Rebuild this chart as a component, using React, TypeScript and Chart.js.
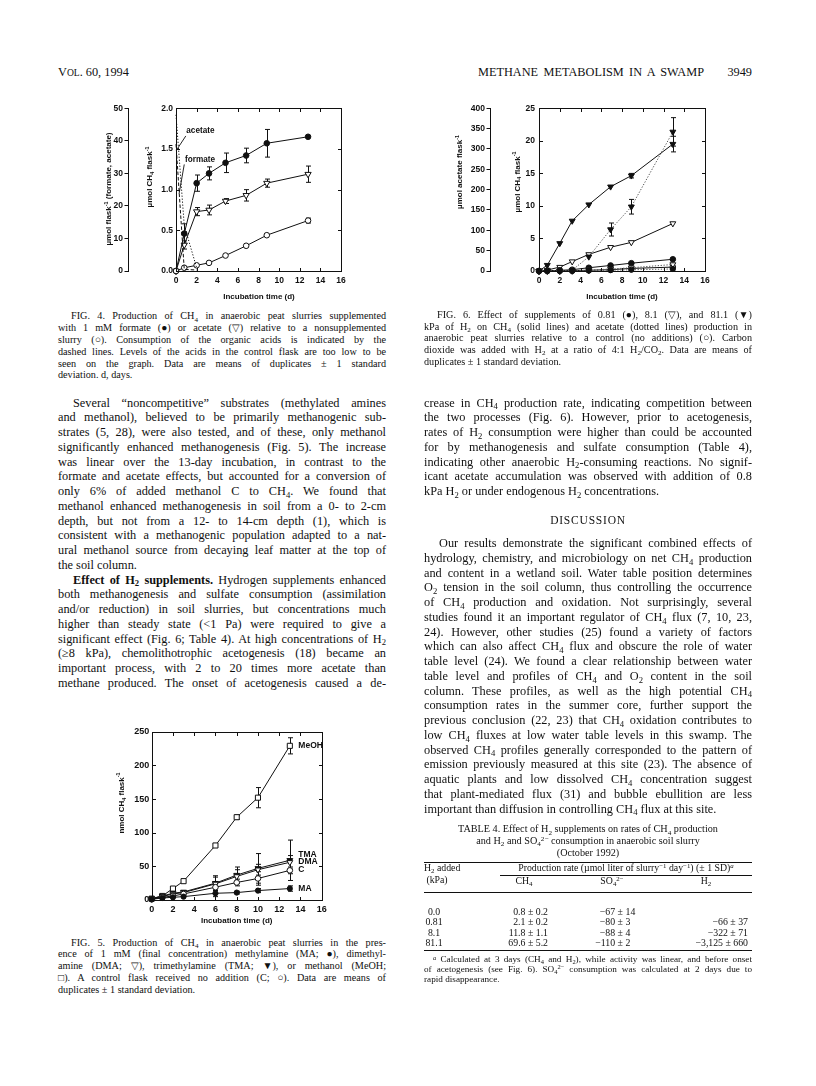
import React, { useEffect, useLayoutEffect, useRef } from 'react';
import { Chart, registerables } from 'chart.js';
Chart.register(...registerables);

// ---------------- Fig. 4 data ----------------
const fig4Days = [0, 0.8, 2, 3.2, 4.8, 6.8, 8.8, 12.8];
const fig4Formate = [0, 0.46, 1.08, 1.2, 1.33, 1.42, 1.57, 1.65];
const fig4FormateSD = [0, 0.12, 0.1, 0.08, 0.12, 0.09, 0.17, 0];
const fig4Acetate = [0, 0.32, 0.73, 0.75, 0.86, 0.93, 1.08, 1.19];
const fig4AcetateSD = [0, 0.05, 0.05, 0.06, 0.03, 0.07, 0.05, 0.1];
const fig4Control = [0, 0.04, 0.07, 0.1, 0.19, 0.31, 0.44, 0.62];
const fig4ControlSD = [0, 0, 0, 0, 0, 0, 0, 0.03];
const fig4AcidDays = [0, 0.8, 2];
const fig4AcetateAcid = [48, 14, 1];
const fig4FormateAcid = [39, 0.5, 0.3];

// ---------------- Fig. 5 data ----------------
const fig5Days = [0, 1, 2, 3, 6, 8, 10, 13];
const fig5MeOH = [2, 6, 17, 28, 81, 123, 152, 229];
const fig5MeOHSD = [0, 0, 0, 0, 0, 3, 15, 12];
const fig5TMA = [2, 6, 10, 12, 25, 37, 47, 59];
const fig5TMASD = [0, 0, 0, 0, 11, 12, 22, 30];
const fig5DMA = [2, 5, 9, 11, 24, 35, 45, 56];
const fig5DMASD = [0, 0, 0, 0, 10, 10, 8, 10];
const fig5C = [1, 4, 6, 9, 19, 26, 32, 44];
const fig5CSD = [0, 0, 0, 0, 5, 5, 10, 5];
const fig5MA = [1, 3, 4, 5, 10, 11, 14, 17];
const fig5MASD = [0, 0, 0, 0, 5, 2, 3, 4];

// ---------------- Fig. 6 data ----------------
const fig6Days = [0, 0.8, 2, 3.2, 4.8, 6.9, 8.9, 12.9];
const fig6CH4_081 = [0, 0.05, 0.1, 0.2, 0.5, 0.85, 1.2, 1.8];
const fig6CH4_81 = [0, 0.15, 0.6, 1.45, 2.55, 3.65, 4.4, 7.3];
const fig6CH4_811 = [0, 0.9, 4.25, 7.7, 10.2, 12.95, 14.65, 19.5];
const fig6CH4_811SD = [0, 0, 0, 0, 0, 0, 0.35, 1.2];
const fig6CH4Control = [0, 0.02, 0.04, 0.06, 0.12, 0.2, 0.4, 0.6];
const fig6Acetate_811 = [0, 0, 0, 2, 35, 102, 158, 342];
const fig6Acetate_811SD = [0, 0, 0, 0, 0, 16, 18, 35];
const fig6Acetate_81 = [0, 0, 0, 0, 2, 5, 8, 16];
const fig6Acetate_081 = [0, 0, 0, 0, 1, 2, 3, 5];

// ---------------- Table 4 data ----------------
const tblH2Added = ['0.0', '0.81', '8.1', '81.1'];
const tblCH4 = ['0.8 ± 0.2', '2.1 ± 0.2', '11.8 ± 1.1', '69.6 ± 5.2'];
const tblSO4Left = ['−67 ±', '−80 ±', '−88 ±', '−110 ±'];
const tblSO4Right = ['14', '3', '4', '2'];
const tblH2 = ['', '−66 ± 37', '−322 ± 71', '−3,125 ± 660'];

// ---------------- styling ----------------
const INK = '#101010';
const SERIF = '"Liberation Serif", "Times New Roman", serif';
const SANS = '"Liberation Sans", Arial, sans-serif';
const LX = 58, RX = 424, CW = 328;
const BODY = 12.3, CAP = 10.2;

const pts = (xs: number[], ys: number[]) => xs.map((x, i) => ({ x, y: ys[i] }));

function drawRich(ctx: any, segs: any[], x: number, y: number, size: number, weight: string, align: string, rot: number) {
  const fontFor = (s: any) => `${weight} ${s.sub || s.sup ? size * 0.68 : size}px ${SANS}`;
  let total = 0;
  const widths = segs.map((s) => { ctx.font = fontFor(s); const w = ctx.measureText(s.t).width; total += w; return w; });
  ctx.save();
  ctx.translate(x, y);
  ctx.rotate(rot || 0);
  ctx.textBaseline = 'middle';
  ctx.textAlign = 'left';
  ctx.fillStyle = INK;
  let cx = align === 'center' ? -total / 2 : align === 'right' ? -total : 0;
  segs.forEach((s, i) => {
    ctx.font = fontFor(s);
    const dy = s.sub ? size * 0.3 : s.sup ? -size * 0.35 : 0;
    ctx.fillText(s.t, cx, dy);
    cx += widths[i];
  });
  ctx.restore();
}

const errPlugin = {
  id: 'errbars',
  beforeDatasetsDraw(chart: any) {
    const ctx = chart.ctx;
    chart.data.datasets.forEach((ds: any, di: number) => {
      if (!ds.errors) return;
      const meta = chart.getDatasetMeta(di);
      const ys = chart.scales[ds.yAxisID || 'y'];
      ctx.save();
      ctx.strokeStyle = INK;
      ctx.lineWidth = 1;
      ds.data.forEach((p: any, i: number) => {
        const e = ds.errors[i];
        if (!e) return;
        const px = Math.round(meta.data[i].x) + 0.5;
        const y1 = ys.getPixelForValue(p.y + e), y2 = ys.getPixelForValue(p.y - e);
        ctx.beginPath();
        ctx.moveTo(px, y1); ctx.lineTo(px, y2);
        ctx.moveTo(px - 2.5, y1); ctx.lineTo(px + 2.5, y1);
        ctx.moveTo(px - 2.5, y2); ctx.lineTo(px + 2.5, y2);
        ctx.stroke();
      });
      ctx.restore();
    });
  },
};

function makeFrame(yid: string) {
  return {
    id: 'frame',
    afterDatasetsDraw(chart: any) {
      const { ctx, chartArea: a } = chart;
      const L = 3.5;
      ctx.save();
      ctx.strokeStyle = INK;
      ctx.lineWidth = 1;
      const l = Math.round(a.left) + 0.5, r = Math.round(a.right) + 0.5, t = Math.round(a.top) + 0.5, b = Math.round(a.bottom) + 0.5;
      ctx.strokeRect(l, t, r - l, b - t);
      ctx.beginPath();
      const xs = chart.scales.x;
      xs.ticks.forEach((tk: any) => {
        const p = Math.round(xs.getPixelForValue(tk.value)) + 0.5;
        ctx.moveTo(p, b); ctx.lineTo(p, b - L);
        ctx.moveTo(p, t); ctx.lineTo(p, t + L);
      });
      const ys = chart.scales[yid];
      ys.ticks.forEach((tk: any) => {
        const p = Math.round(ys.getPixelForValue(tk.value)) + 0.5;
        ctx.moveTo(l, p); ctx.lineTo(l + L, p);
        ctx.moveTo(r, p); ctx.lineTo(r - L, p);
      });
      ctx.stroke();
      ctx.restore();
    },
  };
}

function makeDecor(texts: any[], leaders: any[]) {
  return {
    id: 'decor',
    afterDraw(chart: any) {
      const ctx = chart.ctx;
      leaders.forEach((ld) => {
        const xs = chart.scales.x, ys = chart.scales[ld.yid || 'y'];
        ctx.save();
        ctx.strokeStyle = INK;
        ctx.lineWidth = 0.9;
        ctx.beginPath();
        ctx.moveTo(xs.getPixelForValue(ld.x1), ys.getPixelForValue(ld.y1));
        ctx.lineTo(xs.getPixelForValue(ld.x2), ys.getPixelForValue(ld.y2));
        ctx.stroke();
        ctx.restore();
      });
      texts.forEach((t) => {
        let x = t.x, y = t.y;
        if (t.data) { x = chart.scales.x.getPixelForValue(t.x); y = chart.scales[t.yid || 'y'].getPixelForValue(t.y); }
        drawRich(ctx, t.segs, x, y, t.size, t.weight || 'bold', t.align || 'center', t.rot || 0);
      });
    },
  };
}

const tickFont = (size: number) => ({ family: SANS, size, weight: 'bold' as const });

function scaleX(h: number, size: number, pad: number) {
  return {
    type: 'linear', min: 0, max: 16,
    ticks: { stepSize: 2, font: tickFont(size), color: INK, padding: pad, maxRotation: 0, autoSkip: false },
    grid: { display: false, drawTicks: false }, border: { display: false },
    afterFit: (s: any) => { s.height = h; },
  };
}
function innerY(min: number, max: number, step: number, w: number, size: number, pad: number, fmt?: (v: number) => string) {
  return {
    type: 'linear', position: 'left', weight: 0, min, max,
    ticks: { stepSize: step, font: tickFont(size), color: INK, padding: pad, callback: (v: any) => (fmt ? fmt(Number(v)) : String(v)) },
    grid: { display: false, drawTicks: false }, border: { display: false },
    afterFit: (s: any) => { s.width = w; },
  };
}
function outerY(min: number, max: number, step: number, w: number, size: number, pad: number) {
  return {
    type: 'linear', position: 'left', weight: 2, min, max,
    ticks: { stepSize: step, font: tickFont(size), color: INK, padding: pad },
    grid: { display: true, drawOnChartArea: false, drawTicks: true, tickLength: 3.5, color: INK, lineWidth: 1 },
    border: { display: true, color: INK, width: 1 },
    afterFit: (s: any) => { s.width = w; },
  };
}

function marker(style: string, filled: boolean, r: number, rot = 0) {
  return {
    pointStyle: style, pointRadius: r, pointRotation: rot,
    pointBackgroundColor: filled ? INK : '#ffffff', pointBorderColor: INK, pointBorderWidth: 1,
    borderColor: INK, borderWidth: 1, showLine: true, clip: false, fill: false,
  };
}

const baseOpts = (padding: any) => ({
  responsive: false, animation: false, events: [],
  layout: { padding },
  plugins: { legend: { display: false }, tooltip: { enabled: false } },
});

function fig4Config() {
  const texts = [
    { segs: [{ t: 'Incubation time (d)' }], x: 199, y: 201.7, size: 8 },
    { segs: [{ t: 'µmol flask' }, { t: '-1', sup: true }, { t: ' (formate, acetate)' }], x: 49, y: 94, size: 8, rot: -Math.PI / 2 },
    { segs: [{ t: 'µmol CH' }, { t: '4', sub: true }, { t: ' flask' }, { t: '-1', sup: true }], x: 90, y: 82, size: 8, rot: -Math.PI / 2 },
    { segs: [{ t: 'acetate' }], x: 1.0, y: 1.72, data: true, size: 8.2, align: 'left' },
    { segs: [{ t: 'formate' }], x: 0.87, y: 1.37, data: true, size: 8.2, align: 'left' },
  ];
  const leaders = [
    { x1: 0.95, y1: 1.66, x2: 0.12, y2: 1.5 },
    { x1: 0.8, y1: 1.31, x2: 0.3, y2: 0.95 },
  ];
  return {
    type: 'scatter',
    data: {
      datasets: [
        { data: pts(fig4AcidDays, fig4AcetateAcid), yAxisID: 'yA', showLine: true, pointRadius: 0, borderColor: INK, borderWidth: 1, borderDash: [1.2, 1.8], clip: false },
        { data: pts(fig4AcidDays, fig4FormateAcid), yAxisID: 'yA', showLine: true, pointRadius: 0, borderColor: INK, borderWidth: 1, borderDash: [3.5, 2], clip: false },
        { data: pts(fig4Days, fig4Control), ...marker('circle', false, 2.8), errors: fig4ControlSD },
        { data: pts(fig4Days, fig4Acetate), ...marker('triangle', false, 3.6, 180), errors: fig4AcetateSD },
        { data: pts(fig4Days, fig4Formate), ...marker('circle', true, 2.8), errors: fig4FormateSD },
      ],
    },
    options: {
      ...baseOpts({ top: 13.3, right: 8, bottom: 0, left: 0 }),
      scales: {
        x: scaleX(39, 8.5, 4.2),
        y: innerY(0, 2, 0.5, 48, 8.5, 3, (v) => v.toFixed(1)),
        yA: outerY(0, 50, 10, 68, 8.5, 1.5),
      },
    },
    plugins: [errPlugin, makeFrame('y'), makeDecor(texts, leaders)],
  };
}

function fig5Config() {
  const texts = [
    { segs: [{ t: 'Incubation time (d)' }], x: 141.7, y: 200.5, size: 8 },
    { segs: [{ t: 'nmol CH' }, { t: '4', sub: true }, { t: ' flask' }, { t: '-1', sup: true }], x: 26.7, y: 83, size: 8, rot: -Math.PI / 2 },
    { segs: [{ t: 'MeOH' }], x: 13.8, y: 229, data: true, size: 8.5, align: 'left' },
    { segs: [{ t: 'TMA' }], x: 13.8, y: 67, data: true, size: 8.5, align: 'left' },
    { segs: [{ t: 'DMA' }], x: 13.8, y: 56.5, data: true, size: 8.5, align: 'left' },
    { segs: [{ t: 'C' }], x: 13.8, y: 45.5, data: true, size: 8.5, align: 'left' },
    { segs: [{ t: 'MA' }], x: 13.8, y: 17, data: true, size: 8.5, align: 'left' },
  ];
  return {
    type: 'scatter',
    data: {
      datasets: [
        { data: pts(fig5Days, fig5MA), ...marker('circle', true, 2.6), errors: fig5MASD },
        { data: pts(fig5Days, fig5C), ...marker('circle', false, 2.8), errors: fig5CSD },
        { data: pts(fig5Days, fig5DMA), ...marker('triangle', false, 3.4, 180), errors: fig5DMASD },
        { data: pts(fig5Days, fig5TMA), ...marker('triangle', true, 3.4, 180), errors: fig5TMASD },
        { data: pts(fig5Days, fig5MeOH), ...marker('rect', false, 3.6), errors: fig5MeOHSD },
      ],
    },
    options: {
      ...baseOpts({ top: 11.7, right: 13.3, bottom: 0, left: 0 }),
      scales: {
        x: scaleX(30, 9, 4.5),
        y: innerY(0, 250, 50, 56.7, 9, 2.5),
      },
    },
    plugins: [errPlugin, makeFrame('y'), makeDecor(texts, [])],
  };
}

function fig6Config() {
  const texts = [
    { segs: [{ t: 'Incubation time (d)' }], x: 182, y: 201.7, size: 8 },
    { segs: [{ t: 'µmol acetate flask' }, { t: '-1', sup: true }], x: 20, y: 77, size: 8, rot: -Math.PI / 2 },
    { segs: [{ t: 'µmol CH' }, { t: '4', sub: true }, { t: ' flask' }, { t: '-1', sup: true }], x: 77.3, y: 87, size: 8, rot: -Math.PI / 2 },
  ];
  const dotted = { borderDash: [1.3, 1.6], borderColor: '#555', borderWidth: 1, yAxisID: 'yA' };
  return {
    type: 'scatter',
    data: {
      datasets: [
        { data: pts(fig6Days, fig6Acetate_081), ...marker('circle', true, 2.6), ...dotted },
        { data: pts(fig6Days, fig6Acetate_81), ...marker('triangle', false, 3.4, 180), ...dotted },
        { data: pts(fig6Days, fig6Acetate_811), ...marker('triangle', true, 3.4, 180), ...dotted, errors: fig6Acetate_811SD },
        { data: pts(fig6Days, fig6CH4Control), ...marker('circle', false, 2.8) },
        { data: pts(fig6Days, fig6CH4_081), ...marker('circle', true, 2.8) },
        { data: pts(fig6Days, fig6CH4_81), ...marker('triangle', false, 3.4, 180) },
        { data: pts(fig6Days, fig6CH4_811), ...marker('triangle', true, 3.4, 180), errors: fig6CH4_811SD },
      ],
    },
    options: {
      ...baseOpts({ top: 13.3, right: 10, bottom: 0, left: 0 }),
      scales: {
        x: scaleX(39, 8.5, 4.2),
        y: innerY(0, 25, 5, 49, 8.5, 4),
        yA: outerY(0, 400, 50, 50, 8.5, 1.5),
      },
    },
    plugins: [errPlugin, makeFrame('y'), makeDecor(texts, [])],
  };
}

function ChartCanvas({ left, top, width, height, config }: any) {
  const ref = useRef<HTMLCanvasElement>(null);
  useEffect(() => {
    const chart = new Chart(ref.current as any, config() as any);
    return () => chart.destroy();
  }, []);
  return <canvas ref={ref} width={width} height={height} style={{ position: 'absolute', left, top, width, height }} />;
}

// ---------------- text helpers ----------------
const Sb = ({ children }: any) => <span style={{ fontSize: '0.7em', position: 'relative', top: '0.3em' }}>{children}</span>;
const Sp = ({ children }: any) => <span style={{ fontSize: '0.7em', position: 'relative', top: '-0.45em' }}>{children}</span>;
const CH4 = <>CH<Sb>4</Sb></>;
const H2 = <>H<Sb>2</Sb></>;
const O2 = <>O<Sb>2</Sb></>;
const CO2 = <>CO<Sb>2</Sb></>;
const SO4 = <>SO<Sb>4</Sb><Sp>2−</Sp></>;

function JLine({ x, y, w, size, indent = 0, justify = true, align = 'left', children, style }: any) {
  const ref = useRef<HTMLSpanElement>(null);
  useLayoutEffect(() => {
    const el = ref.current;
    if (!el) return;
    el.style.wordSpacing = '0px';
    const nat = el.getBoundingClientRect().width;
    const target = w - indent;
    const n = ((el.textContent || '').match(/ /g) || []).length;
    if (justify && n > 0) {
      el.style.wordSpacing = `${(target - nat) / n}px`;
    } else if (align === 'center') {
      el.style.left = `${x + (w - nat) / 2}px`;
    } else if (align === 'right') {
      el.style.left = `${x + w - nat}px`;
    }
  }, []);
  return (
    <span
      ref={ref}
      style={{
        position: 'absolute', left: x + indent, top: y - size * 0.55, whiteSpace: 'pre',
        fontSize: size, lineHeight: `${size}px`, fontFamily: SERIF, color: INK, ...style,
      }}
    >
      {children}
    </span>
  );
}

function Block({ lines, x, y0, dy, w, size, indent }: any) {
  return (
    <>
      {lines.map((l: any, k: number) => (
        <JLine key={k} x={x} y={y0 + k * dy} w={w} size={size} indent={l.i ? indent : 0} justify={!l.last}>
          {l.c}
        </JLine>
      ))}
    </>
  );
}

const fig4Caption = [
  { i: 1, c: <>FIG. 4. Production of {CH4} in anaerobic peat slurries supplemented</> },
  { c: <>with 1 mM formate (●) or acetate (▽) relative to a nonsupplemented</> },
  { c: <>slurry (○). Consumption of the organic acids is indicated by the</> },
  { c: <>dashed lines. Levels of the acids in the control flask are too low to be</> },
  { c: <>seen on the graph. Data are means of duplicates ± 1 standard</> },
  { c: <>deviation. d, days.</>, last: true },
];

const fig6Caption = [
  { i: 1, c: <>FIG. 6. Effect of supplements of 0.81 (●), 8.1 (▽), and 81.1 (▼)</> },
  { c: <>kPa of {H2} on {CH4} (solid lines) and acetate (dotted lines) production in</> },
  { c: <>anaerobic peat slurries relative to a control (no additions) (○). Carbon</> },
  { c: <>dioxide was added with {H2} at a ratio of 4:1 {H2}/{CO2}. Data are means of</> },
  { c: <>duplicates ± 1 standard deviation.</>, last: true },
];

const fig5Caption = [
  { i: 1, c: <>FIG. 5. Production of {CH4} in anaerobic peat slurries in the pres-</> },
  { c: <>ence of 1 mM (final concentration) methylamine (MA; ●), dimethyl-</> },
  { c: <>amine (DMA; ▽), trimethylamine (TMA; ▼), or methanol (MeOH;</> },
  { c: <>□). A control flask received no addition (C; ○). Data are means of</> },
  { c: <>duplicates ± 1 standard deviation.</>, last: true },
];

const leftBody = [
  { i: 1, c: <>Several “noncompetitive” substrates (methylated amines</> },
  { c: <>and methanol), believed to be primarily methanogenic sub-</> },
  { c: <>strates (5, 28), were also tested, and of these, only methanol</> },
  { c: <>significantly enhanced methanogenesis (Fig. 5). The increase</> },
  { c: <>was linear over the 13-day incubation, in contrast to the</> },
  { c: <>formate and acetate effects, but accounted for a conversion of</> },
  { c: <>only 6% of added methanol C to {CH4}. We found that</> },
  { c: <>methanol enhanced methanogenesis in soil from a 0- to 2-cm</> },
  { c: <>depth, but not from a 12- to 14-cm depth (1), which is</> },
  { c: <>consistent with a methanogenic population adapted to a nat-</> },
  { c: <>ural methanol source from decaying leaf matter at the top of</> },
  { c: <>the soil column.</>, last: true },
  { i: 1, c: <><b>Effect of H<Sb>2</Sb> supplements.</b> Hydrogen supplements enhanced</> },
  { c: <>both methanogenesis and sulfate consumption (assimilation</> },
  { c: <>and/or reduction) in soil slurries, but concentrations much</> },
  { c: <>higher than steady state (&lt;1 Pa) were required to give a</> },
  { c: <>significant effect (Fig. 6; Table 4). At high concentrations of {H2}</> },
  { c: <>(≥8 kPa), chemolithotrophic acetogenesis (18) became an</> },
  { c: <>important process, with 2 to 20 times more acetate than</> },
  { c: <>methane produced. The onset of acetogenesis caused a de-</> },
];

const rightBody1 = [
  { c: <>crease in {CH4} production rate, indicating competition between</> },
  { c: <>the two processes (Fig. 6). However, prior to acetogenesis,</> },
  { c: <>rates of {H2} consumption were higher than could be accounted</> },
  { c: <>for by methanogenesis and sulfate consumption (Table 4),</> },
  { c: <>indicating other anaerobic {H2}-consuming reactions. No signif-</> },
  { c: <>icant acetate accumulation was observed with addition of 0.8</> },
  { c: <>kPa {H2} or under endogenous {H2} concentrations.</>, last: true },
];

const rightBody2 = [
  { i: 1, c: <>Our results demonstrate the significant combined effects of</> },
  { c: <>hydrology, chemistry, and microbiology on net {CH4} production</> },
  { c: <>and content in a wetland soil. Water table position determines</> },
  { c: <>{O2} tension in the soil column, thus controlling the occurrence</> },
  { c: <>of {CH4} production and oxidation. Not surprisingly, several</> },
  { c: <>studies found it an important regulator of {CH4} flux (7, 10, 23,</> },
  { c: <>24). However, other studies (25) found a variety of factors</> },
  { c: <>which can also affect {CH4} flux and obscure the role of water</> },
  { c: <>table level (24). We found a clear relationship between water</> },
  { c: <>table level and profiles of {CH4} and {O2} content in the soil</> },
  { c: <>column. These profiles, as well as the high potential {CH4}</> },
  { c: <>consumption rates in the summer core, further support the</> },
  { c: <>previous conclusion (22, 23) that {CH4} oxidation contributes to</> },
  { c: <>low {CH4} fluxes at low water table levels in this swamp. The</> },
  { c: <>observed {CH4} profiles generally corresponded to the pattern of</> },
  { c: <>emission previously measured at this site (23). The absence of</> },
  { c: <>aquatic plants and low dissolved {CH4} concentration suggest</> },
  { c: <>that plant-mediated flux (31) and bubble ebullition are less</> },
  { c: <>important than diffusion in controlling {CH4} flux at this site.</>, last: true },
];

const footLines = [
  { i: 1, c: <><i><Sp>a</Sp></i> Calculated at 3 days ({CH4} and {H2}), while activity was linear, and before onset</> },
  { c: <>of acetogenesis (see Fig. 6). {SO4} consumption was calculated at 2 days due to</> },
  { c: <>rapid disappearance.</>, last: true },
];

const Rule = ({ x, y, w, h = 1 }: any) => (
  <div style={{ position: 'absolute', left: x, top: y, width: w, height: h, background: INK }} />
);

function Table4() {
  const T = 9.8;
  const rows = [912.5, 922.8, 933.1, 943.4];
  return (
    <>
      <JLine x={RX} y={830} w={CW} size={CAP} justify={false} align="center">TABLE 4. Effect of {H2} supplements on rates of {CH4} production</JLine>
      <JLine x={RX} y={841.7} w={CW} size={CAP} justify={false} align="center">and {H2} and {SO4} consumption in anaerobic soil slurry</JLine>
      <JLine x={RX} y={853.3} w={CW} size={CAP} justify={false} align="center">(October 1992)</JLine>
      <Rule x={RX} y={862} w={CW} h={1.2} />
      <JLine x={RX} y={868.5} w={60} size={T} justify={false}>{H2} added</JLine>
      <JLine x={RX} y={880} w={26} size={T} justify={false} align="center">(kPa)</JLine>
      <JLine x={500} y={868} w={252} size={T} justify={false} align="center">Production rate (µmol liter of slurry<Sp>−1</Sp> day<Sp>−1</Sp>) (± 1 SD)<i><Sp>a</Sp></i></JLine>
      <Rule x={500} y={874.5} w={252} />
      <JLine x={504} y={881} w={40} size={T} justify={false} align="center">{CH4}</JLine>
      <JLine x={592} y={881} w={40} size={T} justify={false} align="center">{SO4}</JLine>
      <JLine x={686} y={881} w={40} size={T} justify={false} align="center">{H2}</JLine>
      <Rule x={RX} y={891.5} w={CW} />
      {rows.map((y, k) => (
        <React.Fragment key={k}>
          <JLine x={414} y={y} w={40} size={T} justify={false} align="center">{tblH2Added[k]}</JLine>
          <JLine x={448} y={y} w={100} size={T} justify={false} align="right">{tblCH4[k]}</JLine>
          <JLine x={523} y={y} w={100} size={T} justify={false} align="right">{tblSO4Left[k]}</JLine>
          <JLine x={625.5} y={y} w={40} size={T} justify={false}>{tblSO4Right[k]}</JLine>
          <JLine x={627} y={y} w={121} size={T} justify={false} align="right">{tblH2[k]}</JLine>
        </React.Fragment>
      ))}
      <Rule x={RX} y={950} w={CW} h={1.2} />
      <Block lines={footLines} x={RX} y0={960.5} dy={9.8} w={CW} size={9.2} indent={9} />
    </>
  );
}

export default function App() {
  const bodyDy = 14.75;
  return (
    <div style={{ position: 'absolute', left: 0, top: 0, width: 816, height: 1086, overflow: 'hidden', background: '#ffffff', fontFamily: SERIF, color: INK }}>
      {/* running head */}
      <JLine x={LX} y={73} w={100} size={12.3} justify={false}>V<span style={{ fontSize: '0.78em' }}>OL</span>. 60, 1994</JLine>
      <JLine x={478} y={73} w={226} size={12.3}>METHANE METABOLISM IN A SWAMP</JLine>
      <JLine x={700} y={73} w={52} size={12.3} justify={false} align="right">3949</JLine>

      {/* figures */}
      <ChartCanvas left={60} top={95} width={290} height={215} config={fig4Config} />
      <ChartCanvas left={440} top={95} width={275} height={215} config={fig6Config} />
      <ChartCanvas left={95} top={720} width={240} height={210} config={fig5Config} />

      {/* captions */}
      <Block lines={fig4Caption} x={LX} y0={317} dy={11.8} w={CW} size={CAP} indent={13} />
      <Block lines={fig6Caption} x={RX} y0={315.5} dy={11.8} w={CW} size={CAP} indent={13} />
      <Block lines={fig5Caption} x={LX} y0={943.3} dy={11.8} w={CW} size={CAP} indent={13} />

      {/* body text */}
      <Block lines={leftBody} x={LX} y0={403.3} dy={bodyDy} w={CW} size={BODY} indent={15} />
      <Block lines={rightBody1} x={RX} y0={403.3} dy={bodyDy} w={CW} size={BODY} indent={15} />
      <JLine x={RX} y={521} w={CW} size={11.5} justify={false} align="center" style={{ letterSpacing: '0.8px' }}>DISCUSSION</JLine>
      <Block lines={rightBody2} x={RX} y0={544} dy={bodyDy} w={CW} size={BODY} indent={15} />

      <Table4 />
    </div>
  );
}
